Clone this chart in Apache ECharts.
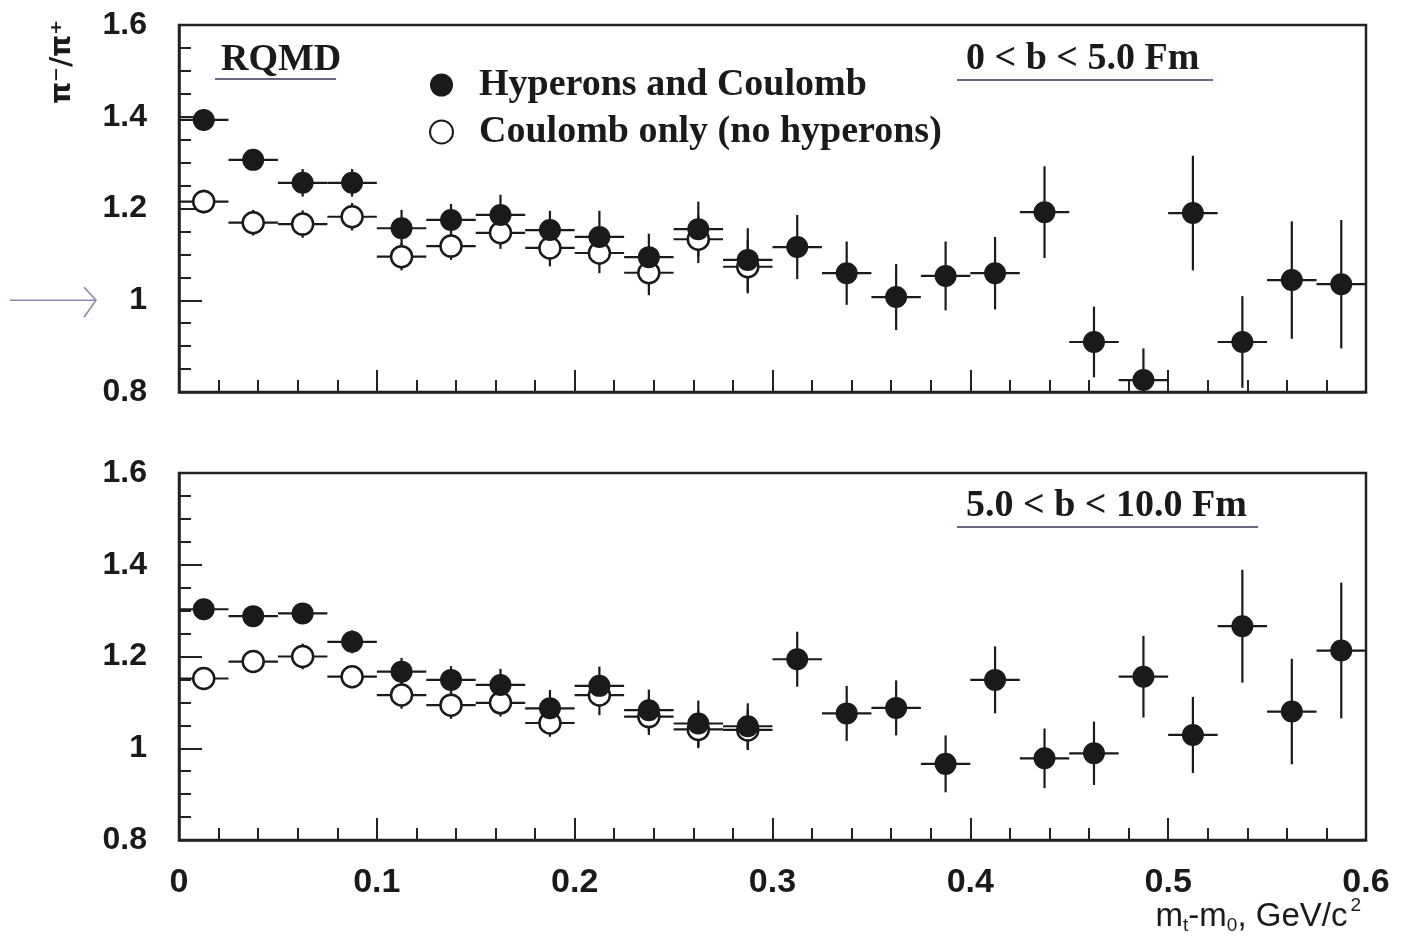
<!DOCTYPE html>
<html>
<head>
<meta charset="utf-8">
<title>RQMD pi-/pi+ ratio</title>
<script src="https://cdn.jsdelivr.net/npm/echarts@6/dist/echarts.min.js"></script>
<style>
	html, body { margin: 0; padding: 0; background: #fff; }
	#chart { width: 1403px; height: 950px; }
</style>
</head>
<body>
<div id="chart"></div>
<script>
// bin centres of mt-m0 (GeV/c^2), bins are 0.025 wide
var binCenters = [0.0125, 0.0375, 0.0625, 0.0875, 0.1125, 0.1375, 0.1625, 0.1875,
	0.2125, 0.2375, 0.2625, 0.2875, 0.3125, 0.3375, 0.3625, 0.3875,
	0.4125, 0.4375, 0.4625, 0.4875, 0.5125, 0.5375, 0.5625, 0.5875];
var halfBin = 0.0125;

// 0 < b < 5.0 Fm
var topFilled = [1.393, 1.306, 1.256, 1.256, 1.157, 1.175, 1.186, 1.153, 1.138, 1.094, 1.155, 1.088,
	1.116, 1.059, 1.007, 1.053, 1.059, 1.192, 0.909, 0.826, 1.190, 0.909, 1.044, 1.035];
var topFilledErr = [0.008, 0.02, 0.03, 0.03, 0.04, 0.035, 0.044, 0.042, 0.057, 0.051, 0.06, 0.069,
	0.07, 0.069, 0.072, 0.075, 0.079, 0.10, 0.077, 0.069, 0.125, 0.10, 0.128, 0.14];
var topOpen = [1.215, 1.169, 1.166, 1.182, 1.095, 1.118, 1.147, 1.114, 1.103, 1.060, 1.133, 1.073];
var topOpenErr = [0.026, 0.028, 0.03, 0.03, 0.03, 0.03, 0.035, 0.04, 0.044, 0.049, 0.052, 0.058];

// 5.0 < b < 10.0 Fm
var botFilled = [1.303, 1.288, 1.294, 1.232, 1.167, 1.149, 1.138, 1.087, 1.136, 1.083, 1.054, 1.048,
	1.194, 1.076, 1.088, 0.966, 1.149, 0.978, 0.989, 1.156, 1.029, 1.266, 1.080, 1.213];
var botFilledErr = [0.008, 0.012, 0.018, 0.025, 0.03, 0.03, 0.035, 0.04, 0.042, 0.045, 0.05, 0.05,
	0.06, 0.06, 0.06, 0.062, 0.073, 0.065, 0.069, 0.089, 0.083, 0.123, 0.115, 0.148];
var botOpen = [1.152, 1.189, 1.200, 1.156, 1.116, 1.094, 1.099, 1.055, 1.116, 1.069, 1.041, 1.040];
var botOpenErr = [0.02, 0.025, 0.028, 0.025, 0.03, 0.03, 0.03, 0.03, 0.044, 0.04, 0.041, 0.044];

var xTicks = [0, 0.1, 0.2, 0.3, 0.4, 0.5, 0.6];
var yTicks = [0.8, 1, 1.2, 1.4, 1.6];

var ink = '#1a1a1a';
var nameFilled = 'Hyperons and Coulomb';
var nameOpen = 'Coulomb only (no hyperons)';

function pts(vals) {
	return vals.map(function(v, i) { return [binCenters[i], v]; });
}
function errPts(vals, errs) {
	return vals.map(function(v, i) { return [binCenters[i], v, errs[i]]; });
}

function errorRender(params, api) {
	var x = api.value(0), y = api.value(1), e = api.value(2);
	var l = api.coord([x - halfBin, y]);
	var r = api.coord([x + halfBin, y]);
	var t = api.coord([x, y + e]);
	var b = api.coord([x, y - e]);
	var st = { stroke: ink, lineWidth: 2.2 };
	return {
		type: 'group',
		children: [
			{ type: 'line', shape: { x1: l[0], y1: l[1], x2: r[0], y2: r[1] }, style: st },
			{ type: 'line', shape: { x1: t[0], y1: t[1], x2: b[0], y2: b[1] }, style: st },
		],
	};
}

function xAxisCfg(idx, showLabels) {
	return {
		gridIndex: idx,
		type: 'value',
		min: xTicks[0],
		max: xTicks[xTicks.length - 1],
		interval: 0.1,
		axisLine: { show: true, lineStyle: { color: '#222', width: 2.5 } },
		axisTick: { show: true, inside: true, length: 22, lineStyle: { color: '#222', width: 2 } },
		minorTick: { show: true, splitNumber: 5, length: 12, lineStyle: { color: '#222', width: 2 } },
		splitLine: { show: false },
		axisLabel: {
			show: showLabels,
			margin: 26,
			fontFamily: 'Liberation Sans',
			fontWeight: 'bold',
			fontSize: 34,
			color: ink,
			formatter: function(v) { return String(+v.toFixed(1)); },
		},
	};
}

function yAxisCfg(idx) {
	return {
		gridIndex: idx,
		type: 'value',
		min: yTicks[0],
		max: yTicks[yTicks.length - 1],
		interval: 0.2,
		axisLine: { show: true, lineStyle: { color: '#222', width: 2.5 } },
		axisTick: { show: true, inside: true, length: 23, lineStyle: { color: '#222', width: 2 } },
		minorTick: { show: true, splitNumber: 4, length: 12, lineStyle: { color: '#222', width: 2 } },
		splitLine: { show: false },
		axisLabel: {
			margin: 32,
			fontFamily: 'Liberation Sans',
			fontWeight: 'bold',
			fontSize: 32,
			color: ink,
			formatter: function(v) { return String(+v.toFixed(1)); },
		},
	};
}

function panelSeries(idx, filled, filledErr, open, openErr) {
	return [
		{
			type: 'custom', xAxisIndex: idx, yAxisIndex: idx, clip: true,
			renderItem: errorRender, data: errPts(open, openErr), silent: true,
		},
		{
			type: 'scatter', name: nameOpen, xAxisIndex: idx, yAxisIndex: idx,
			symbol: 'circle', symbolSize: 21, data: pts(open),
			itemStyle: { color: '#fff', borderColor: ink, borderWidth: 2.5, opacity: 1 },
		},
		{
			type: 'custom', xAxisIndex: idx, yAxisIndex: idx, clip: true,
			renderItem: errorRender, data: errPts(filled, filledErr), silent: true,
		},
		{
			type: 'scatter', name: nameFilled, xAxisIndex: idx, yAxisIndex: idx,
			symbol: 'circle', symbolSize: 22, data: pts(filled),
			itemStyle: { color: ink, opacity: 1 },
		},
	];
}

var chart = echarts.init(document.getElementById('chart'), null, { renderer: 'canvas' });

var option = {
	animation: false,
	backgroundColor: '#fff',
	grid: [
		{ left: 179, right: 37, top: 25, height: 367, show: true, borderColor: '#222', borderWidth: 2.5 },
		{ left: 179, right: 37, top: 473, height: 367, show: true, borderColor: '#222', borderWidth: 2.5 },
	],
	xAxis: [xAxisCfg(0, false), xAxisCfg(1, true)],
	yAxis: [yAxisCfg(0), yAxisCfg(1)],
	legend: {
		orient: 'vertical',
		left: 424,
		top: 61,
		itemWidth: 23,
		itemHeight: 23,
		itemGap: 9,
		selectedMode: false,
		data: [nameFilled, nameOpen],
		textStyle: {
			fontFamily: 'Liberation Serif',
			fontWeight: 'bold',
			fontSize: 38,
			color: ink,
			padding: [0, 0, 0, 21],
		},
	},
	series: panelSeries(0, topFilled, topFilledErr, topOpen, topOpenErr)
		.concat(panelSeries(1, botFilled, botFilledErr, botOpen, botOpenErr)),
};

chart.setOption(option);

// annotations, placed after the axes exist
var arrowY = chart.convertToPixel({ xAxisIndex: 0, yAxisIndex: 0 }, [0, 1])[1];
var serifBold = 'bold 38px "Liberation Serif"';
var underline = { stroke: '#6a6880', lineWidth: 2 };

chart.setOption({
	graphic: [
		{ id: 'rqmd', type: 'text', left: 221, top: 41, style: { text: 'RQMD', font: serifBold, fill: ink } },
		{ id: 'rqmd_u', type: 'line', shape: { x1: 215, y1: 79, x2: 336, y2: 79 }, style: underline },
		{ id: 'b1', type: 'text', left: 966, top: 40, style: { text: '0 < b < 5.0 Fm', font: serifBold, fill: ink } },
		{ id: 'b1_u', type: 'line', shape: { x1: 957, y1: 80, x2: 1213, y2: 80 }, style: underline },
		{ id: 'b2', type: 'text', left: 966, top: 487, style: { text: '5.0 < b < 10.0 Fm', font: serifBold, fill: ink } },
		{ id: 'b2_u', type: 'line', shape: { x1: 957, y1: 527, x2: 1258, y2: 527 }, style: underline },
		{
			id: 'yname', type: 'text', x: 63, y: 62, rotation: Math.PI / 2,
			style: {
				text: 'π⁻/π⁺', font: 'bold 28px "DejaVu Sans"', fill: ink,
				align: 'center', verticalAlign: 'middle',
			},
		},
		{
			id: 'xname', type: 'text', right: 42, top: 896,
			style: {
				text: '{m|m}{s|t}{m|-m}{s|0}{m|, GeV/c}{p|2}',
				fill: ink,
				rich: {
					m: { fontFamily: 'Liberation Sans', fontSize: 33, color: ink },
					s: { fontFamily: 'Liberation Sans', fontSize: 19, color: ink, padding: [18, 0, 0, 0] },
					p: { fontFamily: 'Liberation Sans', fontSize: 19, color: ink, padding: [0, 0, 22, 3] },
				},
			},
		},
		{
			id: 'arrow_line', type: 'line',
			shape: { x1: 10, y1: arrowY, x2: 95, y2: arrowY },
			style: { stroke: '#8c89ad', lineWidth: 1.6 },
		},
		{
			id: 'arrow_head', type: 'polyline',
			shape: { points: [[84, arrowY - 13], [96, arrowY], [84, arrowY + 17]] },
			style: { stroke: '#8c89ad', lineWidth: 1.6, fill: null },
		},
	],
});
</script>
</body>
</html>
